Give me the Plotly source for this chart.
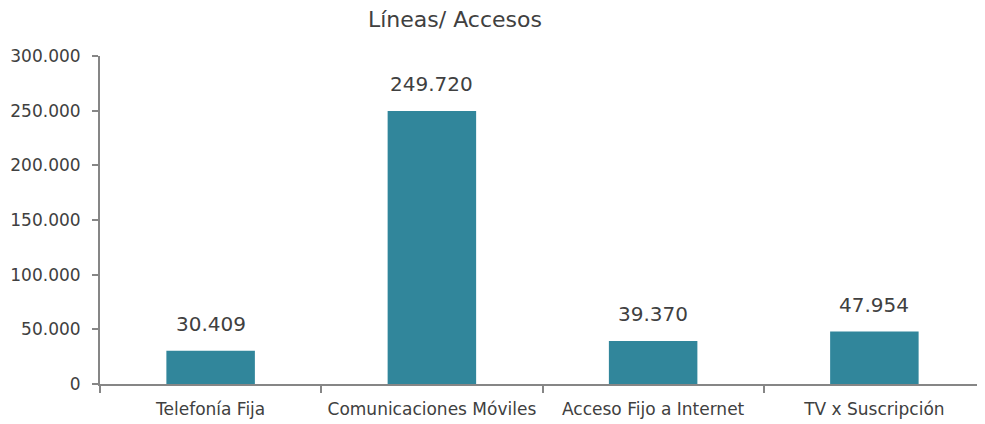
import plotly.graph_objects as go

categories = ["Telefonía Fija", "Comunicaciones Móviles", "Acceso Fijo a Internet", "TV x Suscripción"]
values = [30409, 249720, 39370, 47954]
y_ticks = [0, 50000, 100000, 150000, 200000, 250000, 300000]
y_tick_labels = ["0", "50.000", "100.000", "150.000", "200.000", "250.000", "300.000"]
title_text = "Líneas/ Accesos"

FONT = "DejaVu Sans"
TXT = "#404040"
AX = "#868686"

fig = go.Figure()
fig.add_trace(go.Bar(
    x=categories, y=values, width=0.4,
    marker=dict(color="#31869B", line=dict(width=0)),
    hoverinfo="skip",
))

for c, v in zip(categories, values):
    fig.add_annotation(
        x=c, y=v, xref="x", yref="y",
        text=f"{v:,}".replace(",", "."),
        showarrow=False, yanchor="middle", yshift=27,
        font=dict(family=FONT, size=20, color=TXT),
    )

# plot area in viewport: x 100..985, y 56..384 (page body has 8px margin)
fig.add_annotation(
    xref="paper", yref="paper",
    x=(455 - 100) / 885, y=1 + (56 - 20) / 328,
    xanchor="center", yanchor="middle",
    text=title_text, showarrow=False,
    font=dict(family=FONT, size=22, color=TXT),
)

fig.update_layout(
    width=977, height=416,
    margin=dict(l=92, r=0, t=48, b=40, autoexpand=False),
    paper_bgcolor="white", plot_bgcolor="white",
    showlegend=False,
    bargap=0.6,
    font=dict(family=FONT, size=17, color=TXT),
)
fig.update_xaxes(
    showline=True, linecolor=AX, linewidth=2,
    ticks="outside", tickson="boundaries", ticklen=7, tickcolor=AX, tickwidth=2,
    showgrid=False, tickfont=dict(family=FONT, size=17, color=TXT),
    range=[-0.5, 3.5], automargin=False, ticklabelstandoff=9,
)
fig.update_yaxes(
    range=[0, 300000], tickvals=y_ticks, ticktext=y_tick_labels,
    showline=True, linecolor=AX, linewidth=2,
    ticks="outside", ticklen=6, tickcolor=AX, tickwidth=2,
    showgrid=False, zeroline=False, automargin=False,
    ticklabelstandoff=8,
    tickfont=dict(family=FONT, size=17, color=TXT),
)

fig.write_html("out.html")
